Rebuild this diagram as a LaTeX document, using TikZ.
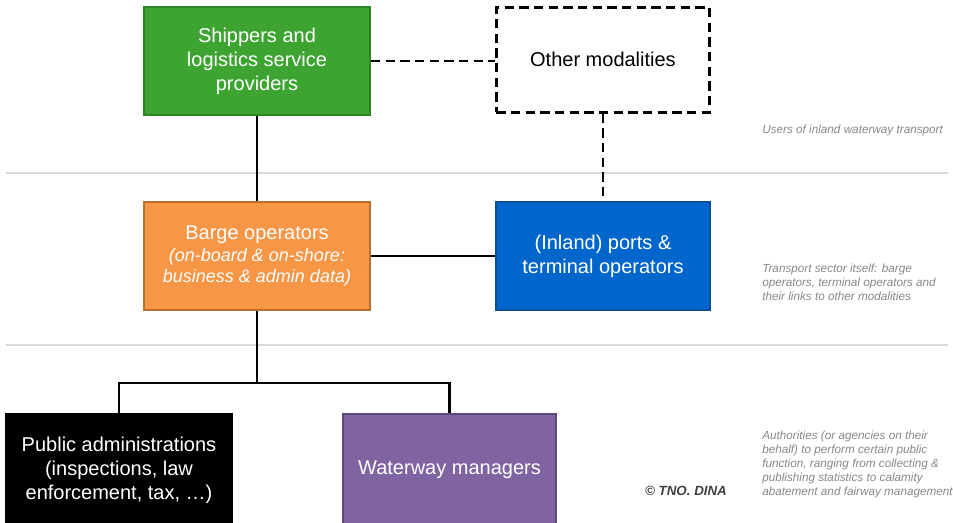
\documentclass[tikz,border=0pt]{standalone}
\usepackage{fontspec}
\setmainfont{Liberation Sans}
\usetikzlibrary{positioning}

\definecolor{shipgreen}{HTML}{3DA432}
\definecolor{shipgreenline}{HTML}{2E8526}
\definecolor{bargeorange}{HTML}{F79646}
\definecolor{bargeorangeline}{HTML}{B8702F}
\definecolor{portblue}{HTML}{0066CC}
\definecolor{portblueline}{HTML}{0A4F96}
\definecolor{wwpurple}{HTML}{8064A2}
\definecolor{wwpurpleline}{HTML}{5E4A7A}
\definecolor{notegray}{HTML}{878787}
\definecolor{sepgray}{HTML}{D9D9D9}

\begin{document}
\begin{tikzpicture}[
    x=0.75pt, y=-0.75pt,
    every node/.style={font=\fontsize{15}{18}\selectfont, align=center},
    actor/.style={draw, rectangle, line width=1.5pt, text=white, minimum height=81pt},
    link/.style={line width=2pt},
    dashlink/.style={line width=2.2pt, dash pattern=on 7pt off 4pt},
    sep/.style={sepgray, line width=1.5pt},
    note/.style={font=\fontsize{8.8}{10.5}\selectfont\itshape, text=notegray, align=left, inner sep=0pt, anchor=west}
]
    \useasboundingbox (0,0) rectangle (953,522);
    \clip (0,0) rectangle (953,522);

    % layer separators
    \draw [sep] (6,173) -- (948,173);
    \draw [sep] (6,345) -- (948,345);

    \node (shippers) [actor, fill=shipgreen, draw=shipgreenline, minimum width=169.5pt] at (257,61) {Shippers and\\ logistics service\\ providers};
    \node (other) [draw, rectangle, dashlink, minimum width=159.75pt, minimum height=78.75pt, right=93pt of shippers, yshift=1pt] {Other modalities};
    \node (barge) [actor, fill=bargeorange, draw=bargeorangeline, minimum width=169.5pt, below=63.75pt of shippers] {Barge operators\\[-1.5pt] {\fontsize{13.5}{16}\selectfont\itshape (on-board \& on-shore:}\\[-2.3pt] {\fontsize{13.5}{16}\selectfont\itshape business \& admin data)}};
    \node (ports) [actor, fill=portblue, draw=portblueline, minimum width=160.5pt, right=93pt of barge] {(Inland) ports \&\\ terminal operators};
    \node (public) [actor, fill=black, draw=black, minimum width=169.5pt, minimum height=84pt, anchor=north] at (119,413) {Public administrations\\ (inspections, law\\ enforcement, tax, \dots)};
    \node (waterway) [actor, fill=wwpurple, draw=wwpurpleline, minimum width=159.75pt, minimum height=84pt, anchor=north] at (449.5,413) {Waterway managers};

    \draw [link] (shippers) -- (barge);
    \draw [dashlink] (shippers.east) -- (shippers.east -| other.west);
    \draw [dashlink] (other.south) -- (other.south |- ports.north);
    \draw [link] (barge) -- (ports);
    \draw [link] (barge.south) -- ++(0,72) coordinate (fork);
    \draw [link] (public.north) |- (fork) -| (waterway.north);

    % layer descriptions
    \node (usersnote) [note] at (762,130) {Users of inland waterway transport};
    \node (sectornote) [note] at (762,282) {Transport sector itself: barge\\ operators, terminal operators and\\ their links to other modalities};
    \node (authnote) [note] at (762,464) {Authorities (or agencies on their\\ behalf) to perform certain public\\ function, ranging from collecting \&\\ publishing statistics to calamity\\ abatement and fairway management};
    \node (credit) [font=\fontsize{10}{12}\selectfont\bfseries\itshape, text=black!75] at (686,491) {© TNO. DINA};
\end{tikzpicture}
\end{document}
